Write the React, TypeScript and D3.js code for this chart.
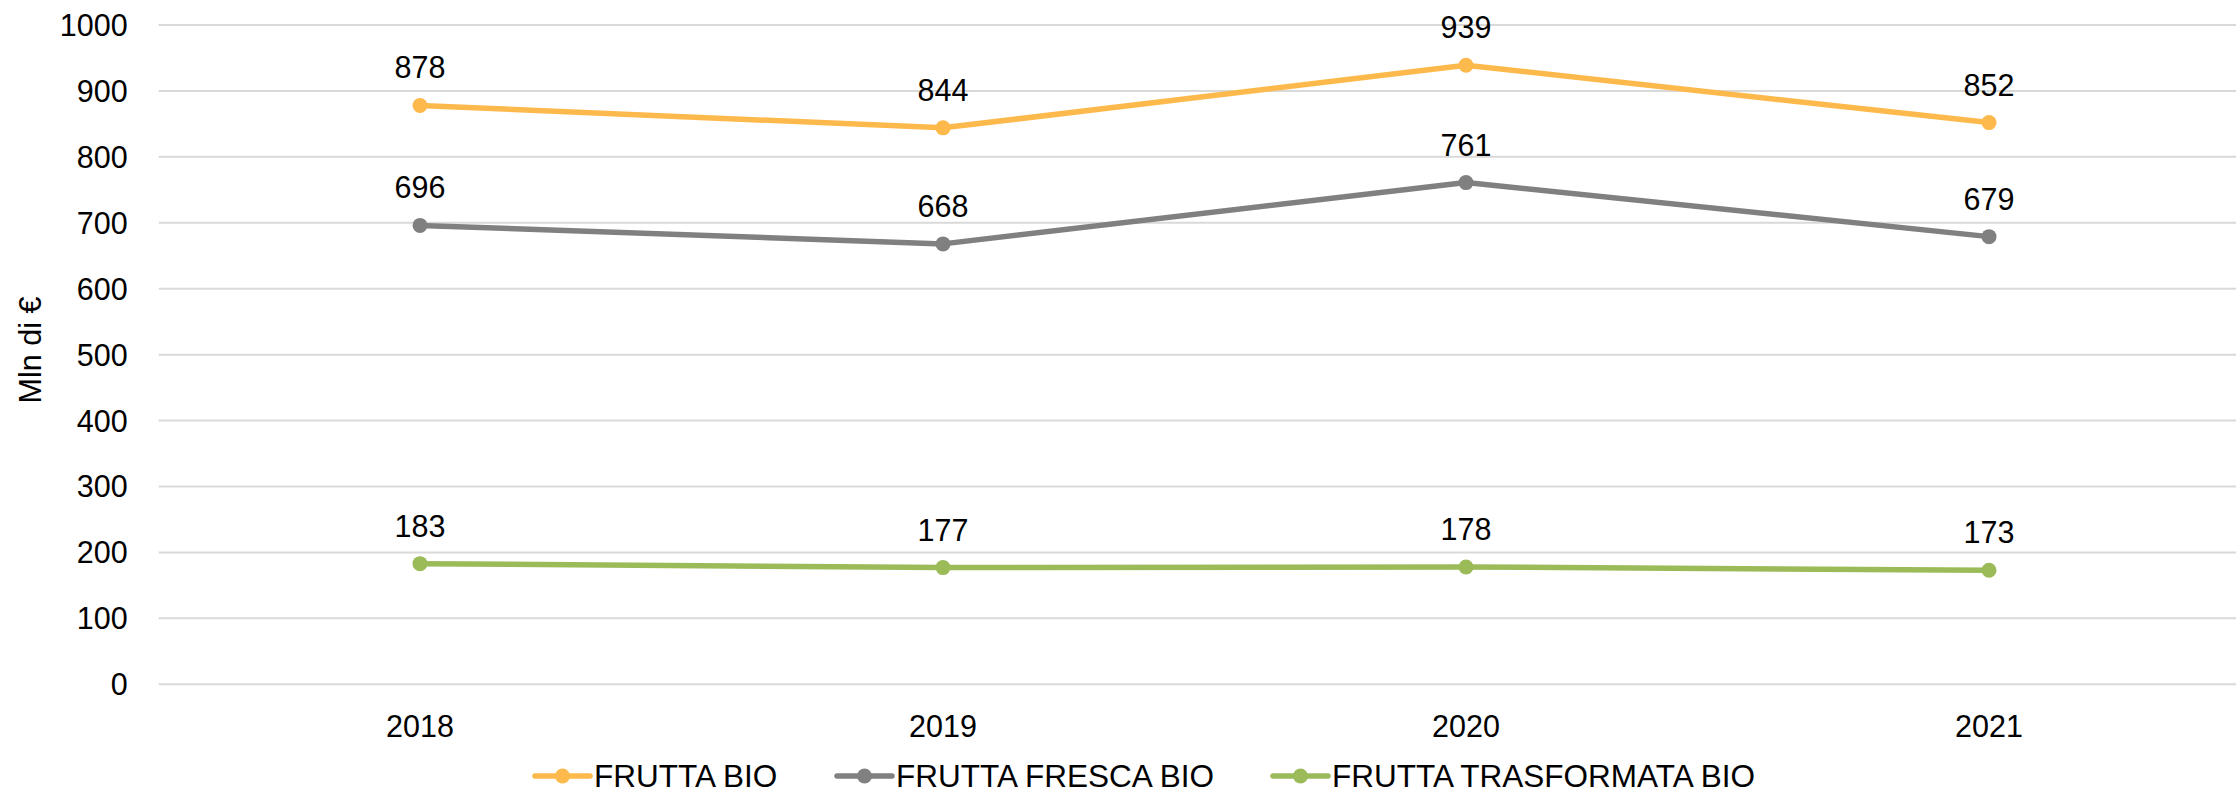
import React, { useEffect, useRef } from "react";
import * as d3 from "d3";

const years = ["2018", "2019", "2020", "2021"];
const fruttaBio = [878, 844, 939, 852];
const fruttaFresca = [696, 668, 761, 679];
const fruttaTrasformata = [183, 177, 178, 173];
const yTicks = [0, 100, 200, 300, 400, 500, 600, 700, 800, 900, 1000];

const seriesNames = ["FRUTTA BIO", "FRUTTA FRESCA BIO", "FRUTTA TRASFORMATA BIO"];
const seriesColors = ["#FDB94B", "#808080", "#9BBB59"];

export default function App() {
  const ref = useRef<SVGSVGElement>(null);

  useEffect(() => {
    const width = 2236,
      height = 793;
    const font = "'Liberation Sans', Arial, sans-serif";

    const svg = d3.select(ref.current);
    svg.selectAll("*").remove();

    const x = d3.scalePoint<string>().domain(years).range([420, 1989]);
    const y = d3.scaleLinear().domain([0, 1000]).range([684.3, 25]);

    // gridlines
    svg
      .append("g")
      .selectAll("line")
      .data(yTicks)
      .enter()
      .append("line")
      .attr("x1", 158.7)
      .attr("x2", width)
      .attr("y1", (d) => y(d))
      .attr("y2", (d) => y(d))
      .attr("stroke", "#D9D9D9")
      .attr("stroke-width", 2);

    // y tick labels
    svg
      .append("g")
      .selectAll("text")
      .data(yTicks)
      .enter()
      .append("text")
      .attr("x", 127.7)
      .attr("y", (d) => y(d))
      .attr("dy", "0.36em")
      .attr("text-anchor", "end")
      .style("font-family", font)
      .style("font-size", "30.5px")
      .attr("fill", "#000")
      .text((d) => d);

    // x tick labels
    svg
      .append("g")
      .selectAll("text")
      .data(years)
      .enter()
      .append("text")
      .attr("x", (d) => x(d)!)
      .attr("y", 736.7)
      .attr("text-anchor", "middle")
      .style("font-family", font)
      .style("font-size", "30.5px")
      .attr("fill", "#000")
      .text((d) => d);

    // y title
    svg
      .append("text")
      .attr("transform", "translate(41,350) rotate(-90)")
      .attr("text-anchor", "middle")
      .style("font-family", font)
      .style("font-size", "30.5px")
      .attr("fill", "#000")
      .text("Mln di €");

    const allSeries = [fruttaBio, fruttaFresca, fruttaTrasformata];
    const line = d3
      .line<number>()
      .x((d, i) => x(years[i])!)
      .y((d) => y(d));

    allSeries.forEach((values, s) => {
      const g = svg.append("g");
      g.append("path")
        .attr("d", line(values))
        .attr("fill", "none")
        .attr("stroke", seriesColors[s])
        .attr("stroke-width", 5.5)
        .attr("stroke-linejoin", "round");

      g.selectAll("circle")
        .data(values)
        .enter()
        .append("circle")
        .attr("cx", (d, i) => x(years[i])!)
        .attr("cy", (d) => y(d))
        .attr("r", 7.5)
        .attr("fill", seriesColors[s]);

      g.selectAll("text")
        .data(values)
        .enter()
        .append("text")
        .attr("x", (d, i) => x(years[i])!)
        .attr("y", (d) => y(d) - 27)
        .attr("text-anchor", "middle")
        .style("font-family", font)
        .style("font-size", "30.5px")
        .attr("fill", "#000")
        .text((d) => d);
    });

    // legend
    const legendX = [535, 837, 1273];
    const legend = svg
      .append("g")
      .selectAll("g")
      .data(seriesNames)
      .enter()
      .append("g")
      .attr("transform", (d, i) => "translate(" + legendX[i] + ",776)");

    legend
      .append("line")
      .attr("x1", 0)
      .attr("x2", 55)
      .attr("stroke", (d, i) => seriesColors[i])
      .attr("stroke-width", 5.5)
      .attr("stroke-linecap", "round");
    legend
      .append("circle")
      .attr("cx", 27.5)
      .attr("r", 7.5)
      .attr("fill", (d, i) => seriesColors[i]);
    legend
      .append("text")
      .attr("x", 59)
      .attr("y", 11)
      .style("font-family", font)
      .style("font-size", "31.5px")
      .attr("fill", "#000")
      .text((d) => d);

    svg.attr("width", width).attr("height", height);
  }, []);

  return (
    <svg
      ref={ref}
      width={2236}
      height={793}
      style={{ position: "absolute", left: 0, top: 0, background: "#fff" }}
    />
  );
}
